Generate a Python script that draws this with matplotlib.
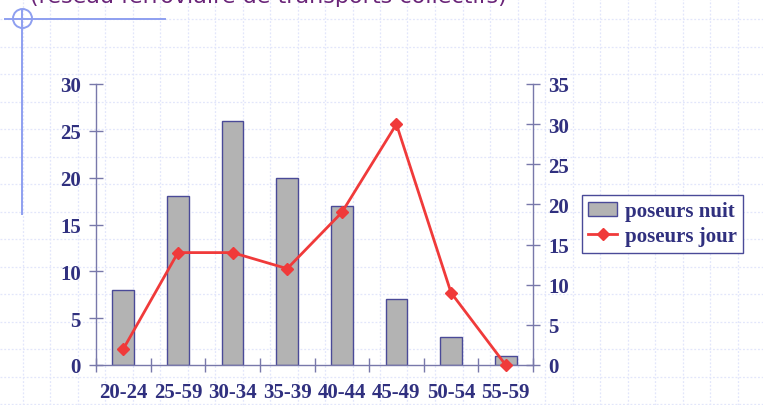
import matplotlib.pyplot as plt
from matplotlib.lines import Line2D
from matplotlib.patches import Ellipse, Patch

categories = ["20-24", "25-59", "30-34", "35-39", "40-44", "45-49", "50-54", "55-59"]
poseurs_nuit = [8, 18, 26, 20, 17, 7, 3, 1]
poseurs_jour = [2, 14, 14, 12, 19, 30, 9, 0]
left_ticks = [0, 5, 10, 15, 20, 25, 30]
right_ticks = [0, 5, 10, 15, 20, 25, 30, 35]
title = "(réseau ferroviaire de transports collectifs)"

W, H = 763, 406
navy = "#30307f"
spine_col = "#7878aa"
fsize = 15
font = {"family": "Liberation Serif", "weight": "bold", "size": fsize, "color": navy}

fig = plt.figure(figsize=(W / 100, H / 100), dpi=100)
fig.patch.set_facecolor("white")


def fx(px):
    return px / W


def fy(py):
    return 1 - py / H


# slide background grid
grid_kw = dict(color="#e2e6fb", lw=0.9, ls=(0, (1.5, 1.5)), zorder=0)
x = 22.5
while x < W:
    fig.add_artist(Line2D([fx(x), fx(x)], [0, 1], transform=fig.transFigure, **grid_kw))
    x += 27.5
y = 20
while y < H:
    fig.add_artist(Line2D([0, 1], [fy(y), fy(y)], transform=fig.transFigure, **grid_kw))
    y += 27.5

# slide decoration top-left
deco = "#8e9ff0"
fig.add_artist(Line2D([fx(5), fx(165)], [fy(19.5), fy(19.5)], transform=fig.transFigure, color=deco, lw=1.4))
fig.add_artist(Line2D([fx(22), fx(22)], [fy(11), fy(215)], transform=fig.transFigure, color=deco, lw=1.4))
fig.add_artist(Ellipse((fx(22.5), fy(19.5)), 19 / W, 19 / H, transform=fig.transFigure,
                       fill=False, ec=deco, lw=1.4))

# title, cut at the top edge as on the slide
fig.text(fx(30), fy(3), title, ha="left", va="baseline", fontsize=16,
         color="#6a2478", family="DejaVu Sans")

ax = fig.add_axes([fx(96), fy(366), fx(533) - fx(96), fy(85) - fy(366)])
ax.set_facecolor("none")
pos = list(range(len(categories)))
ax.bar(pos, poseurs_nuit, width=0.4, color="#b3b3b3", edgecolor="#4a4a98", lw=1, zorder=2)
ax.set_xlim(-0.5, len(categories) - 0.5)
ax.set_ylim(0, 30)
ax.set_yticks(left_ticks)

ax2 = ax.twinx()
ax2.plot(pos, poseurs_jour, color="#f03a3a", lw=2, marker="D", markersize=6, zorder=3, clip_on=False)
ax2.set_ylim(0, 35)
ax2.set_yticks(right_ticks)

ax.set_xticks([p - 0.5 for p in range(len(categories) + 1)])
ax.set_xticklabels([])
ax.set_xticks(pos, minor=True)
ax.set_xticklabels(categories, minor=True, fontdict=font)
ax.tick_params(axis="x", which="major", direction="inout", length=9.5, width=1, color=spine_col)
ax.tick_params(axis="x", which="minor", length=0, pad=12)
ax.tick_params(axis="y", direction="inout", length=10, width=1, color=spine_col, pad=6)
ax2.tick_params(axis="y", direction="inout", length=10, width=1, color=spine_col, pad=6)
for a in (ax, ax2):
    for lab in a.get_yticklabels():
        lab.set_fontproperties({"family": "Liberation Serif", "weight": "bold", "size": fsize})
        lab.set_color(navy)
    a.spines["top"].set_visible(False)
    for s in ("left", "right", "bottom"):
        a.spines[s].set_color(spine_col)
        a.spines[s].set_linewidth(1)
ax.spines["right"].set_visible(False)
ax2.spines["left"].set_visible(False)
ax2.spines["bottom"].set_visible(False)

handles = [Patch(facecolor="#b3b3b3", edgecolor="#4a4a98", lw=1, label="poseurs nuit"),
           Line2D([], [], color="#f03a3a", lw=2, marker="D", markersize=6, label="poseurs jour")]
leg = fig.legend(handles=handles, loc="upper left", bbox_to_anchor=(fx(582), fy(196)),
                 borderaxespad=0, fancybox=False, framealpha=1, edgecolor="#4a4a98",
                 prop={"family": "Liberation Serif", "weight": "bold", "size": fsize},
                 handlelength=1.4, handletextpad=0.35, borderpad=0.3, labelspacing=0.25)
leg.get_frame().set_linewidth(1)
for t in leg.get_texts():
    t.set_color(navy)

fig.savefig("out.png", dpi=100)
